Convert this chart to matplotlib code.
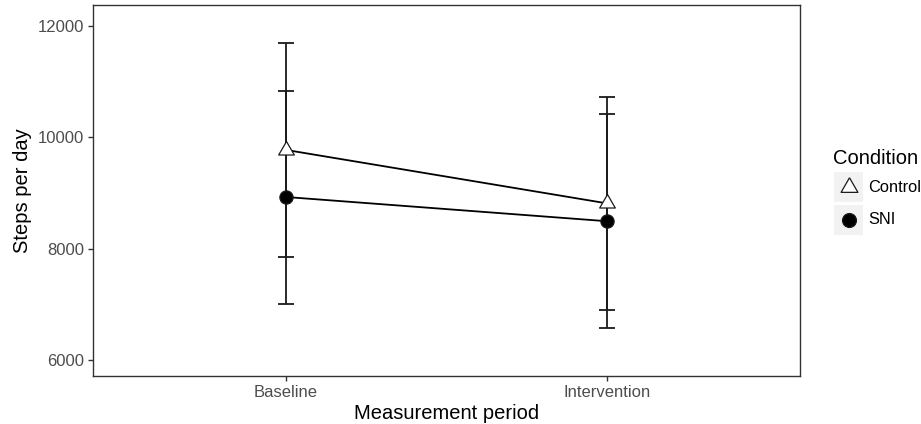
import matplotlib.pyplot as plt
from matplotlib.lines import Line2D
from matplotlib.patches import Rectangle

plt.rcParams["font.family"] = ["Liberation Sans", "DejaVu Sans"]

# Daten
periodos = ["Baseline", "Intervention"]
condicoes = ["Control", "SNI"]
media_control = [9770, 8810]
inferior_control = [7850, 6900]
superior_control = [11690, 10720]
media_sni = [8925, 8490]
inferior_sni = [7010, 6570]
superior_sni = [10830, 10410]

# equilateral triangle centred on its centroid (like ggplot shape 2)
triangulo = [(0, 1.155), (-1, -0.577), (1, -0.577), (0, 1.155)]

W, H = 921, 424
fig = plt.figure(figsize=(W / 100, H / 100), dpi=100)
ax = fig.add_axes([93 / W, 48 / H, (800 - 93) / W, (376 - 5) / H])

x = list(range(1, len(periodos) + 1))
series = [
    (media_control, inferior_control, superior_control, triangulo, "white", 13),
    (media_sni, inferior_sni, superior_sni, "o", "black", 9.5),
]
for media, inf, sup, marcador, cor, tam in series:
    erro = [[m - lo for m, lo in zip(media, inf)], [hi - m for m, hi in zip(media, sup)]]
    ax.errorbar(x, media, yerr=erro, fmt="none", ecolor="#1a1a1a",
                elinewidth=1.3, capsize=5.8, capthick=1.3, zorder=2)
    ax.plot(x, media, color="black", lw=1.3, zorder=3)
    ax.plot(x, media, linestyle="none", marker=marcador, markersize=tam,
            markerfacecolor=cor, markeredgecolor="#1a1a1a", markeredgewidth=0.9,
            zorder=4)

ax.set_xlim(0.4, 2.6)
ax.set_ylim(5713, 12370)
ax.set_xticks(x)
ax.set_xticklabels(periodos)
ax.set_yticks([6000, 8000, 10000, 12000])
for s in ax.spines.values():
    s.set_color("#333333")
    s.set_linewidth(1.0)
ax.tick_params(colors="#333333", labelcolor="#4d4d4d", labelsize=12,
               length=3.5, width=1.0, pad=3)
ax.set_xlabel("Measurement period", fontsize=14.5, color="black", labelpad=3)
ax.set_ylabel("Steps per day", fontsize=14.5, color="black", labelpad=4)

# legend drawn by hand (grey key backgrounds)
fig.text(833 / W, 1 - 158 / H, "Condition", fontsize=14.5, va="center", ha="left")
for i, (nome, marcador, cor, tam) in enumerate(
        [("Control", triangulo, "white", 14), ("SNI", "o", "black", 10)]):
    yc = 187 + i * 33
    fig.add_artist(Rectangle((834 / W, 1 - (yc + 15) / H), 29 / W, 30 / H,
                             transform=fig.transFigure, facecolor="#f2f2f2",
                             edgecolor="none"))
    fig.add_artist(Line2D([848.5 / W], [1 - yc / H], transform=fig.transFigure,
                          marker=marcador, markersize=tam, markerfacecolor=cor,
                          markeredgecolor="#1a1a1a", markeredgewidth=0.9,
                          linestyle="none"))
    fig.text(868 / W, 1 - yc / H, nome, fontsize=11.8, va="center", ha="left")

fig.savefig("out.png", dpi=100)
